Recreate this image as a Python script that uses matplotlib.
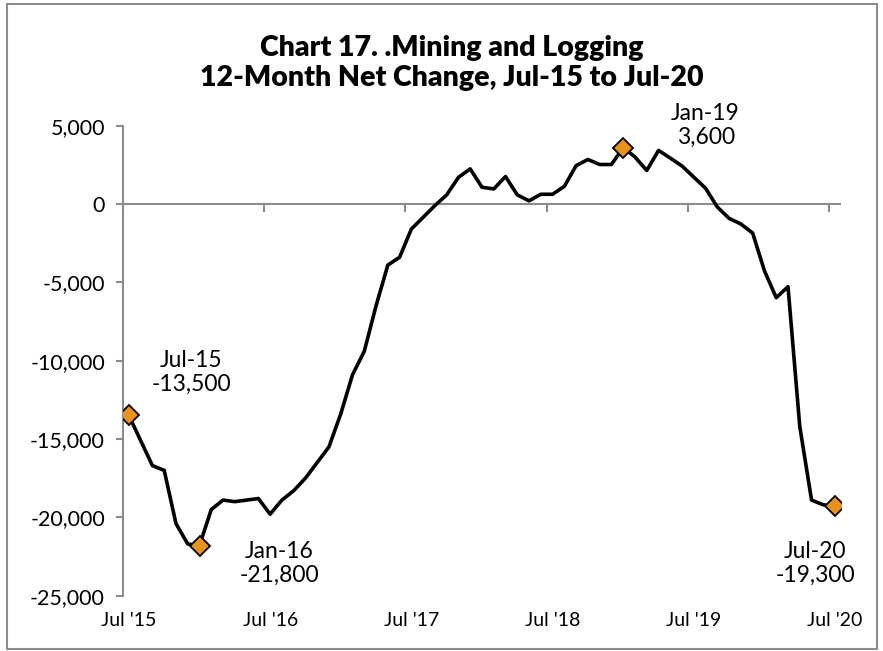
import matplotlib
matplotlib.use("Agg")
import matplotlib.pyplot as plt
from matplotlib.patches import Rectangle

# 12-month net change, monthly, Jul 2015 .. Jul 2020
net_change = [
    -13500, -15100, -16700, -17000, -20400, -21700, -21800, -19500, -18900, -19000,
    -18900, -18800, -19800, -18900, -18300, -17500, -16500, -15500, -13400, -10900,
    -9400, -6500, -3900, -3400, -1600, -850, -100, 580, 1700, 2240,
    1070, 960, 1750, 580, 200, 620, 620, 1130, 2450, 2840,
    2520, 2520, 3600, 3000, 2140, 3420, 2930, 2420, 1710, 1000,
    -200, -920, -1280, -1860, -4270, -5980, -5280, -14200, -18900, -19200,
    -19300,
]
year_labels = ["Jul '15", "Jul '16", "Jul '17", "Jul '18", "Jul '19", "Jul '20"]
highlight_idx = [0, 6, 42, 60]
highlight_text = ["Jul-15\n-13,500", "Jan-16\n-21,800", "Jan-19\n3,600", "Jul-20\n-19,300"]
text_pos = [(5.3, -10770), (12.8, -22950), (49.0, 5030), (58.3, -22950)]
yticks = [5000, 0, -5000, -10000, -15000, -20000, -25000]

plt.rcParams['font.family'] = ['Lato', 'DejaVu Sans']

fig = plt.figure(figsize=(8.83, 6.51), dpi=100)
ax = fig.add_axes([0.1393, 0.085, 0.8131, 0.722])

months = list(range(len(net_change)))
ax.plot(months, net_change, color="black", lw=2.6, zorder=3)
ax.plot([months[i] for i in highlight_idx], [net_change[i] for i in highlight_idx],
        linestyle="none", marker="D", markersize=10, markerfacecolor="#E8921E",
        markeredgecolor="black", markeredgewidth=1.3, zorder=4)

for (tx, ty), s in zip(text_pos, highlight_text):
    ax.text(tx, ty, s, ha="center", va="center", fontsize=16.5, linespacing=1.15,
            clip_on=False)

ax.set_xlim(-0.5, 60.5)
ax.set_ylim(-25000, 5000)

# zero line with year tick marks below it (Excel style)
axis_gray = "#8c8c8c"
ax.axhline(0, color=axis_gray, lw=1.5, zorder=2)
for k in range(len(year_labels)):
    ax.plot([12 * k - 0.5, 12 * k - 0.5], [0, -450], color=axis_gray, lw=1.5, zorder=2)

ax.set_xticks([12 * k for k in range(len(year_labels))])
ax.set_xticklabels(year_labels, fontsize=14)
ax.tick_params(axis="x", length=0, pad=12)

ax.set_yticks(yticks)
ax.set_yticklabels(["{:,}".format(v) for v in yticks], fontsize=15.5)
ax.tick_params(axis="y", length=5, width=1.5, color=axis_gray, pad=8)

for side in ["top", "right", "bottom"]:
    ax.spines[side].set_visible(False)
ax.spines["left"].set_color(axis_gray)
ax.spines["left"].set_linewidth(1.5)

fig.text(0.512, 0.903, "Chart 17. .Mining and Logging\n12-Month Net Change, Jul-15 to Jul-20",
         ha="center", va="center", fontsize=20.5, fontweight="heavy", linespacing=1.2)

# outer chart frame
fig.patches.append(Rectangle((7 / 883, 2 / 651), 870 / 883, 645 / 651,
                             transform=fig.transFigure, fill=False,
                             edgecolor="#8c8c8c", lw=1.5))

fig.savefig("out.png", dpi=100)
